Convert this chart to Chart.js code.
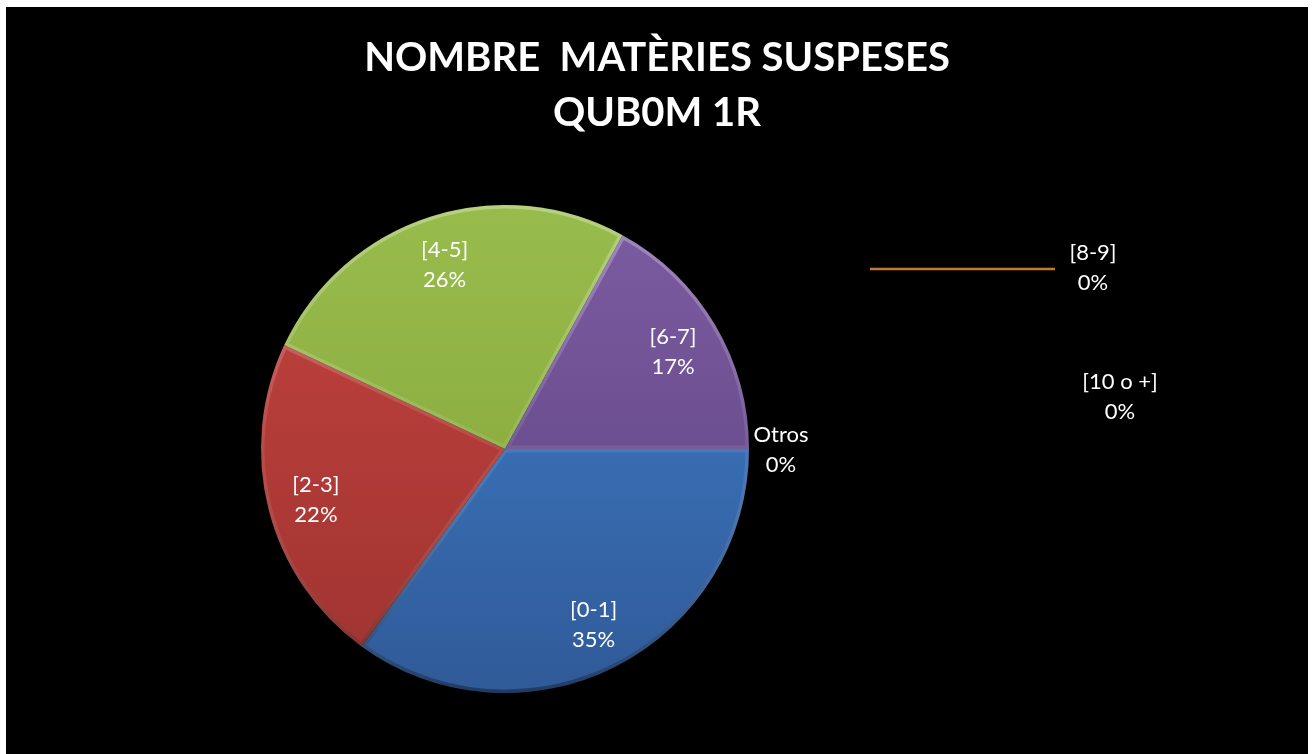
<!DOCTYPE html>
<html>
<head>
<meta charset="utf-8">
<script src="https://cdn.jsdelivr.net/npm/chart.js@4"></script>
<style>
  html, body { margin: 0; padding: 0; background: #fff; }
  #wrap { position: absolute; left: 6px; top: 7px; width: 1302px; height: 747px; background: #000; }
</style>
</head>
<body>
<div id="wrap"><canvas id="pieChart" width="1302" height="747"></canvas></div>
<script>
const categories = ['[0-1]', '[2-3]', '[4-5]', '[6-7]', '[8-9]', '[10 o +]', 'Otros'];
const percentages = [35, 22, 26, 17, 0, 0, 0];
const titleLines = ['NOMBRE  MATÈRIES SUSPESES', 'QUB0M 1R'];

// top / bottom colours of each slice (gradient)
const sliceColors = [
    ['#4080cc', '#305a98'],
    ['#c4433f', '#9e3330'],
    ['#98bc4c', '#82a238'],
    ['#7c5ca2', '#5c427e'],
    ['#f79646', '#f79646'],
    ['#4bacc6', '#4bacc6'],
    ['#8064a2', '#8064a2']
];

// where Excel left the labels of the empty slices (px from pie centre)
const zeroLabelOffsets = {
    '[8-9]': { dx: 588, dy: -181, leader: [365, 550, -180] },
    '[10 o +]': { dx: 615, dy: -52 },
    'Otros': { dx: 276, dy: 1 }
};

function sliceFill(context) {
    const chart = context.chart;
    const area = chart.chartArea;
    const c = sliceColors[context.dataIndex];
    if (!area) return c[0];
    const g = chart.ctx.createLinearGradient(0, area.top, 0, area.bottom);
    g.addColorStop(0, c[0]);
    g.addColorStop(1, c[1]);
    return g;
}

// title drawn by hand so it is centred on the whole canvas, not on the pie
const centredTitle = {
    id: 'centredTitle',
    afterDraw(chart) {
        const ctx = chart.ctx;
        ctx.save();
        ctx.font = 'bold 40px Lato';
        ctx.fillStyle = '#ffffff';
        ctx.textAlign = 'center';
        ctx.textBaseline = 'middle';
        ctx.fillText(titleLines[0], chart.width / 2, 51);
        ctx.fillText(titleLines[1], chart.width / 2, 106);
        ctx.restore();
    }
};

// soft bevel on each slice edge
const bevel = {
    id: 'bevel',
    afterDatasetsDraw(chart) {
        const ctx = chart.ctx;
        const area = chart.chartArea;
        const meta = chart.getDatasetMeta(0);
        meta.data.forEach((arc, i) => {
            if (percentages[i] <= 0) return;
            const p = arc.getProps(['x', 'y', 'startAngle', 'endAngle', 'outerRadius'], true);
            ctx.save();
            ctx.beginPath();
            ctx.moveTo(p.x, p.y);
            ctx.arc(p.x, p.y, p.outerRadius, p.startAngle, p.endAngle);
            ctx.closePath();
            ctx.clip();
            const g = ctx.createLinearGradient(0, area.top, 0, area.bottom);
            g.addColorStop(0, 'rgba(255,255,255,0.30)');
            g.addColorStop(0.5, 'rgba(255,255,255,0.08)');
            g.addColorStop(1, 'rgba(0,0,0,0.35)');
            ctx.strokeStyle = g;
            ctx.lineWidth = 7;
            ctx.stroke();
            ctx.restore();
        });
    }
};

const sliceLabels = {
    id: 'sliceLabels',
    afterDatasetsDraw(chart) {
        const ctx = chart.ctx;
        const meta = chart.getDatasetMeta(0);
        const total = percentages.reduce((a, b) => a + b, 0);
        ctx.save();
        ctx.font = '22px Lato';
        ctx.fillStyle = '#ffffff';
        ctx.textAlign = 'center';
        ctx.textBaseline = 'middle';
        meta.data.forEach((arc, i) => {
            const p = arc.getProps(['x', 'y', 'startAngle', 'endAngle', 'outerRadius'], true);
            let lx, ly;
            if (percentages[i] > 0) {
                const mid = (p.startAngle + p.endAngle) / 2;
                lx = p.x + Math.cos(mid) * p.outerRadius * 0.8;
                ly = p.y + Math.sin(mid) * p.outerRadius * 0.8 + 2;
            } else {
                const o = zeroLabelOffsets[categories[i]];
                lx = p.x + o.dx;
                ly = p.y + o.dy;
                if (o.leader) {
                    ctx.strokeStyle = '#c27a30';
                    ctx.lineWidth = 2.5;
                    ctx.beginPath();
                    ctx.moveTo(p.x + o.leader[0], p.y + o.leader[2]);
                    ctx.lineTo(p.x + o.leader[1], p.y + o.leader[2]);
                    ctx.stroke();
                }
            }
            const pct = Math.round(percentages[i] / total * 100) + '%';
            ctx.fillText(categories[i], lx, ly - 15);
            ctx.fillText(pct, lx, ly + 15);
        });
        ctx.restore();
    }
};

document.addEventListener('DOMContentLoaded', function () {
    const ctx = document.getElementById('pieChart').getContext('2d');
    new Chart(ctx, {
        type: 'pie',
        data: {
            labels: categories,
            datasets: [{
                data: percentages,
                backgroundColor: sliceFill,
                borderWidth: 0
            }]
        },
        options: {
            responsive: false,
            animation: false,
            events: [],
            rotation: 90,
            layout: { padding: { left: 255, right: 559, top: 198, bottom: 61 } },
            plugins: {
                legend: { display: false },
                tooltip: { enabled: false },
                title: { display: false }
            }
        },
        plugins: [bevel, sliceLabels, centredTitle]
    });
});
</script>
</body>
</html>
